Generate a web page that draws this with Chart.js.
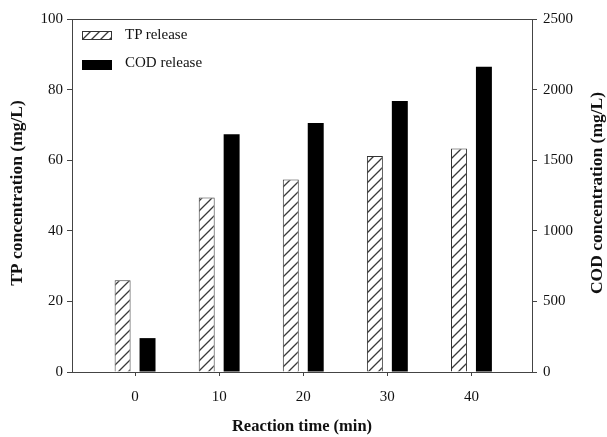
<!DOCTYPE html>
<html>
<head>
<meta charset="utf-8">
<script src="https://cdn.jsdelivr.net/npm/chart.js@4"></script>
<style>
  html, body { margin: 0; padding: 0; background: #fff; }
  #wrap { position: relative; width: 607px; height: 437px; }
  .leg { position: absolute; font: 15px "Liberation Serif", "Times New Roman", serif; color: #111; }
  .sw { position: absolute; }
</style>
</head>
<body>
<div id="wrap">
  <canvas id="chart" width="607" height="437"></canvas>
  <canvas class="sw" id="swTP" width="30" height="9" style="left:82px;top:31px;width:30px;height:9px"></canvas>
  <div class="sw" style="left:82px;top:60px;width:30px;height:10px;background:#000"></div>
  <div class="leg" style="left:125px;top:26px">TP release</div>
  <div class="leg" style="left:125px;top:54px">COD release</div>
</div>
<script>
const times = [0, 10, 20, 30, 40];
const tpRelease = [26, 49.4, 54.5, 61.2, 63.3];
const codRelease = [240, 1683, 1763, 1920, 2162];
const tpTicks = [0, 20, 40, 60, 80, 100];
const codTicks = [0, 500, 1000, 1500, 2000, 2500];

const serif = '"Liberation Serif", "Times New Roman", serif';
const axisColor = '#444';

function hatch(size) {
  const c = document.createElement('canvas');
  c.width = size; c.height = size;
  const g = c.getContext('2d');
  g.fillStyle = '#fff';
  g.fillRect(0, 0, size, size);
  g.strokeStyle = '#3a3a3a';
  g.lineWidth = 1.3;
  g.beginPath();
  g.moveTo(0, size); g.lineTo(size, 0);
  g.moveTo(-1, 1); g.lineTo(1, -1);
  g.moveTo(size - 1, size + 1); g.lineTo(size + 1, size - 1);
  g.stroke();
  return c;
}

const ctx = document.getElementById('chart').getContext('2d');
const hatchPattern = ctx.createPattern(hatch(10), 'repeat');

// legend swatch
const sw = document.getElementById('swTP').getContext('2d');
sw.fillStyle = sw.createPattern(hatch(9), 'repeat');
sw.fillRect(0, 0, 30, 9);
sw.strokeStyle = '#333';
sw.strokeRect(0.5, 0.5, 29, 8);

function sideTitle(c, text, x, y) {
  c.save();
  c.fillStyle = '#111';
  c.font = 'bold 17.5px ' + serif;
  c.textAlign = 'center';
  c.textBaseline = 'middle';
  c.translate(x, y);
  c.rotate(-Math.PI / 2);
  c.fillText(text, 0, 0);
  c.restore();
}

const frame = {
  id: 'frame',
  afterDraw(chart) {
    const a = chart.chartArea;
    const c = chart.ctx;
    c.save();
    c.strokeStyle = axisColor;
    c.lineWidth = 1;
    c.beginPath();
    c.moveTo(a.left, a.top + 0.5);
    c.lineTo(a.right, a.top + 0.5);
    c.stroke();
    c.restore();
    sideTitle(c, 'TP concentration (mg/L)', 17, 193);
    sideTitle(c, 'COD concentration (mg/L)', 597, 193);
  }
};

new Chart(ctx, {
  type: 'bar',
  data: {
    datasets: [{
      label: 'TP release',
      data: times.map((t, i) => ({ x: t, y: tpRelease[i] })),
      backgroundColor: hatchPattern,
      borderColor: '#333',
      borderWidth: 1,
      yAxisID: 'y'
    }, {
      label: 'COD release',
      data: times.map((t, i) => ({ x: t, y: codRelease[i] })),
      backgroundColor: '#000',
      borderColor: '#000',
      borderWidth: 0,
      yAxisID: 'y1'
    }]
  },
  options: {
    responsive: false,
    animation: false,
    categoryPercentage: 0.593,
    barPercentage: 0.64,
    layout: { padding: { top: 19, left: 0, right: 0, bottom: 0 } },
    plugins: { legend: { display: false }, tooltip: { enabled: false } },
    scales: {
      x: {
        type: 'linear',
        offset: false,
        min: -7.5,
        max: 47.2,
        afterBuildTicks: axis => { axis.ticks = times.map(v => ({ value: v })); },
        afterFit: axis => { axis.height = 65; },
        grid: { offset: false, drawOnChartArea: false, drawTicks: true, tickLength: 4, color: axisColor },
        border: { display: true, color: axisColor, width: 1 },
        ticks: { padding: 12, color: '#111', font: { family: serif, size: 15 }, callback: v => String(v) },
        title: { display: true, text: 'Reaction time (min)', color: '#111', font: { family: serif, size: 16.5, weight: 'bold' }, padding: { top: 4, bottom: 0 } }
      },
      y: {
        position: 'left',
        min: 0,
        max: 100,
        afterBuildTicks: axis => { axis.ticks = tpTicks.map(v => ({ value: v })); },
        afterFit: axis => { axis.width = 72; },
        grid: { drawOnChartArea: false, drawTicks: true, tickLength: 5, color: axisColor },
        border: { display: true, color: axisColor, width: 1 },
        ticks: { padding: 4, color: '#111', font: { family: serif, size: 15 }, callback: v => String(v) }
      },
      y1: {
        position: 'right',
        min: 0,
        max: 2500,
        afterBuildTicks: axis => { axis.ticks = codTicks.map(v => ({ value: v })); },
        afterFit: axis => { axis.width = 75; },
        grid: { drawOnChartArea: false, drawTicks: true, tickLength: 5, color: axisColor },
        border: { display: true, color: axisColor, width: 1 },
        ticks: { padding: 6, color: '#111', font: { family: serif, size: 15 }, callback: v => String(v) }
      }
    }
  },
  plugins: [frame]
});
</script>
</body>
</html>
